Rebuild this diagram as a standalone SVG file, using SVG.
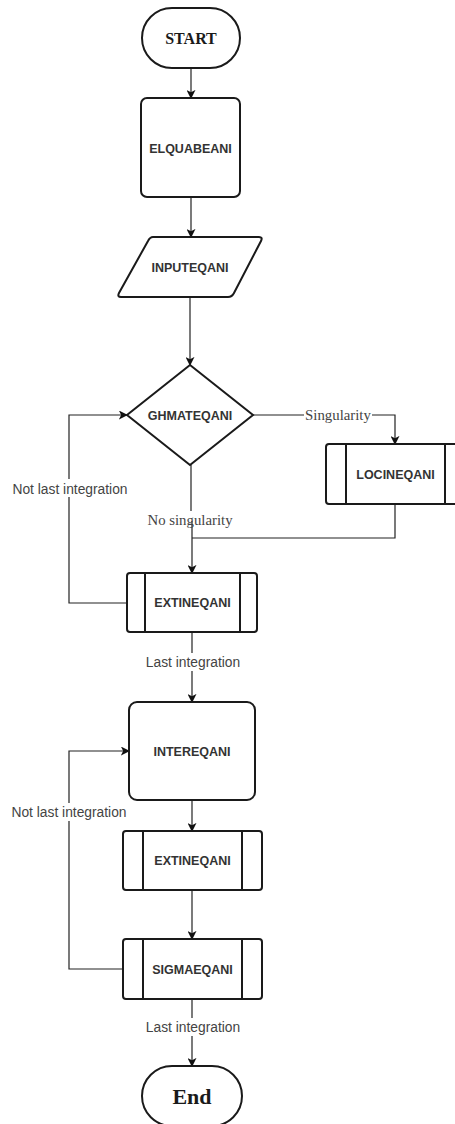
<svg xmlns="http://www.w3.org/2000/svg" width="455" height="1124" viewBox="0 0 455 1124">
<defs>
<style>
.node{fill:#fff;stroke:#1a1a1a;stroke-width:2}
.inner{stroke:#1a1a1a;stroke-width:2;fill:none}
.nt{font-family:"Liberation Sans",Arial,sans-serif;font-weight:bold;font-size:12.5px;fill:#333;text-anchor:middle}
.st{font-family:"Liberation Serif","Times New Roman",serif;font-weight:bold;fill:#1a1a1a;text-anchor:middle}
.edge{fill:none;stroke:#222;stroke-width:1.2}
.lbl{font-family:"Liberation Sans",Arial,sans-serif;font-size:13.8px;fill:#444;text-anchor:middle}
.slbl{font-family:"Liberation Serif","Times New Roman",serif;font-size:14.8px;fill:#444;text-anchor:middle}
.bg{fill:#fff}
</style>
<marker id="arr" viewBox="0 0 10 10" refX="9" refY="5" markerWidth="9" markerHeight="9" markerUnits="userSpaceOnUse" orient="auto">
<path d="M0,0 L10,5 L0,10 L2.5,5 z" fill="#111"/>
</marker>
</defs>
<rect width="455" height="1124" fill="#fff"/>
<g id="connectors">
<path class="edge" d="M191,68 V98" marker-end="url(#arr)"/>
<path class="edge" d="M191,197 V237" marker-end="url(#arr)"/>
<path class="edge" d="M190,297 V365" marker-end="url(#arr)"/>
<path class="edge" d="M253,415 H395 V444" marker-end="url(#arr)"/>
<path class="edge" d="M191,465 V511"/>
<path class="edge" d="M192,521 V573" marker-end="url(#arr)"/>
<path class="edge" d="M395,504 V538 H192"/>
<path class="edge" d="M127,603 H69 V415 H127" marker-end="url(#arr)"/>
<path class="edge" d="M192,632 V702" marker-end="url(#arr)"/>
<path class="edge" d="M192,800 V831" marker-end="url(#arr)"/>
<path class="edge" d="M192,890 V939" marker-end="url(#arr)"/>
<path class="edge" d="M123,969 H69 V751 H129" marker-end="url(#arr)"/>
<path class="edge" d="M192,999 V1066" marker-end="url(#arr)"/>
<rect class="bg" x="304" y="406" width="68" height="18"/>
<text class="slbl" x="338" y="420">Singularity</text>
<text class="slbl" x="190" y="525">No singularity</text>
<rect class="bg" x="10" y="479" width="120" height="18"/>
<text class="lbl" x="70" y="494">Not last integration</text>
<rect class="bg" x="10" y="803" width="120" height="18"/>
<text class="lbl" x="69" y="817">Not last integration</text>
<rect class="bg" x="145" y="653" width="98" height="18"/>
<text class="lbl" x="193" y="667">Last integration</text>
<rect class="bg" x="145" y="1018" width="98" height="18"/>
<text class="lbl" x="193" y="1032">Last integration</text>
</g>
<g id="start">
<rect class="node" x="142" y="8" width="98" height="60" rx="30" ry="30"/>
<text class="st" x="191" y="44" font-size="16">START</text>
</g>
<g id="elquabeani">
<rect class="node" x="141" y="98" width="99" height="99" rx="6"/>
<text class="nt" x="190.5" y="152.5">ELQUABEANI</text>
</g>
<g id="inputeqani">
<path class="node" d="M153,237 H259 Q263,237 261,241 L234,293 Q232,297 228,297 H121 Q117,297 119,293 L148,241 Q150,237 153,237 Z"/>
<text class="nt" x="190" y="271.5">INPUTEQANI</text>
</g>
<g id="ghmateqani">
<polygon class="node" points="190,365 253,415 190,465 127,415"/>
<text class="nt" x="190" y="419.5">GHMATEQANI</text>
</g>
<g id="locineqani">
<rect class="node" x="326" y="444" width="139" height="60" rx="3"/>
<line class="inner" x1="346" y1="444" x2="346" y2="504"/>
<line class="inner" x1="445" y1="444" x2="445" y2="504"/>
<text class="nt" x="395.5" y="478.5">LOCINEQANI</text>
</g>
<g id="extineqani1">
<rect class="node" x="127" y="573" width="130" height="59" rx="3"/>
<line class="inner" x1="145" y1="573" x2="145" y2="632"/>
<line class="inner" x1="240" y1="573" x2="240" y2="632"/>
<text class="nt" x="192.5" y="607">EXTINEQANI</text>
</g>
<g id="intereqani">
<rect class="node" x="129" y="702" width="126" height="98" rx="8"/>
<text class="nt" x="192" y="755.5">INTEREQANI</text>
</g>
<g id="extineqani2">
<rect class="node" x="123" y="831" width="139" height="59" rx="3"/>
<line class="inner" x1="143" y1="831" x2="143" y2="890"/>
<line class="inner" x1="242" y1="831" x2="242" y2="890"/>
<text class="nt" x="192.5" y="865">EXTINEQANI</text>
</g>
<g id="sigmaeqani">
<rect class="node" x="123" y="939" width="139" height="60" rx="3"/>
<line class="inner" x1="143" y1="939" x2="143" y2="999"/>
<line class="inner" x1="242" y1="939" x2="242" y2="999"/>
<text class="nt" x="192.5" y="973.5">SIGMAEQANI</text>
</g>
<g id="end">
<rect class="node" x="142" y="1066" width="100" height="60" rx="30" ry="30"/>
<text class="st" x="192" y="1104" font-size="22">End</text>
</g>
</svg>
